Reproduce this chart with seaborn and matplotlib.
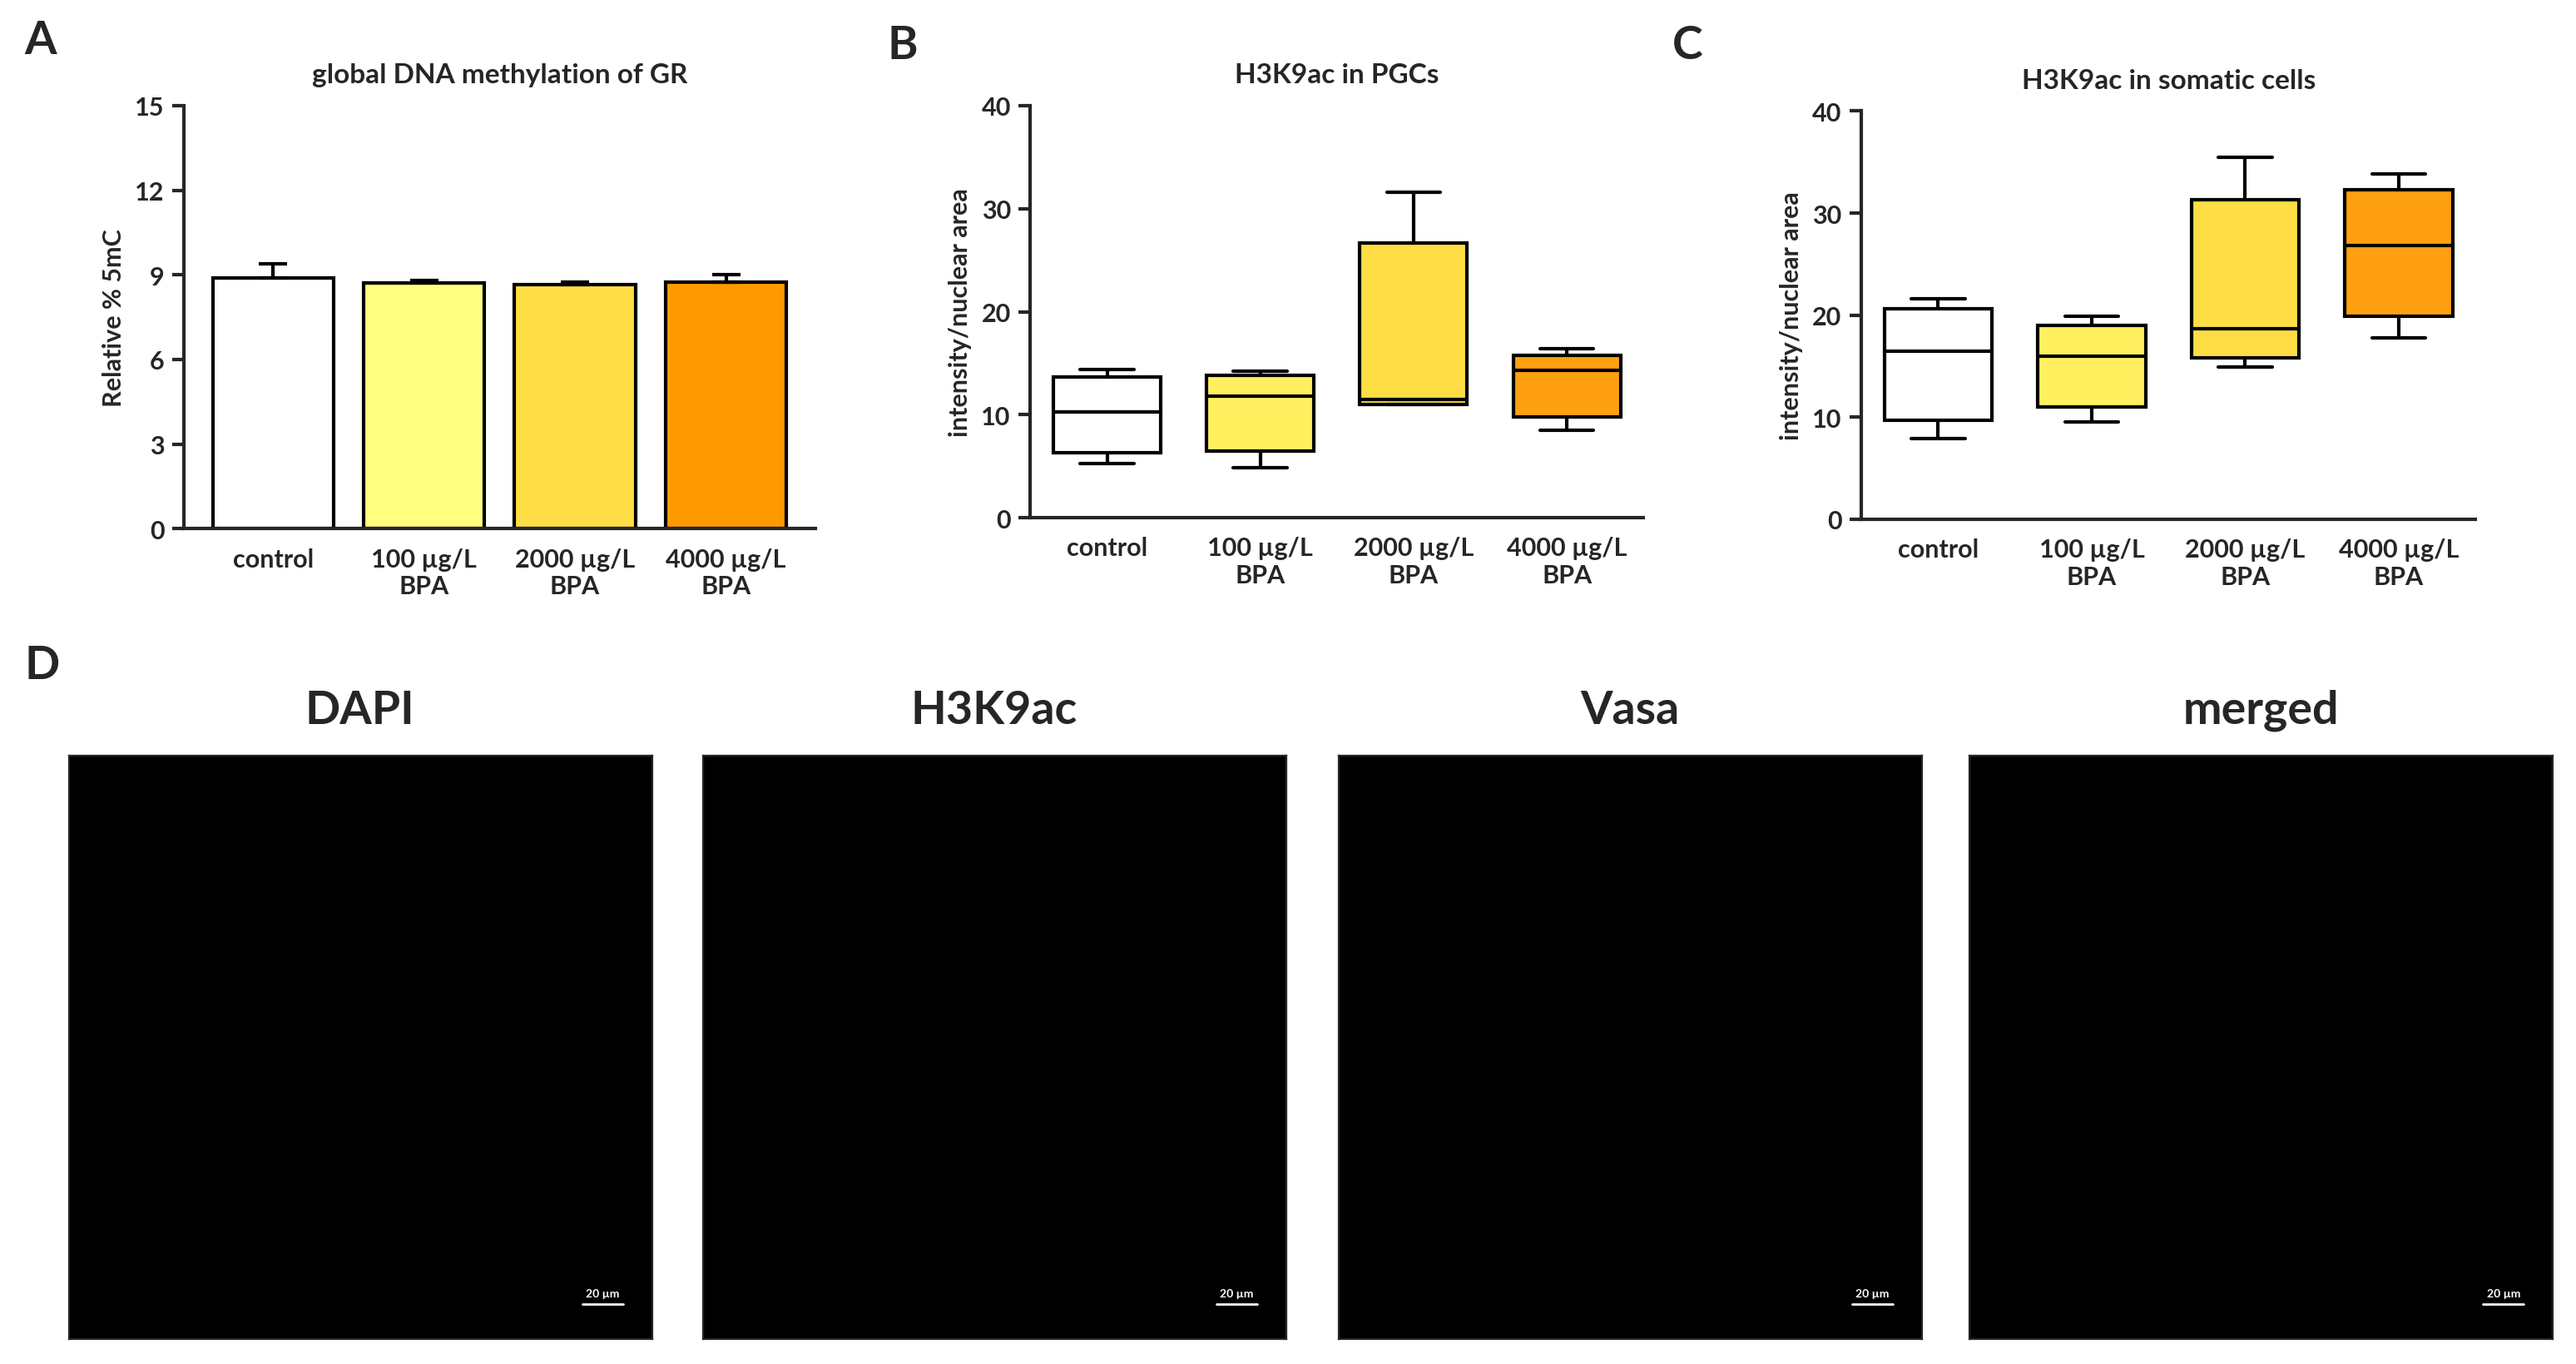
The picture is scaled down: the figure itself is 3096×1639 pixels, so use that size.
import matplotlib
matplotlib.use("Agg")
import matplotlib.pyplot as plt
import seaborn as sns
import pandas as pd
import numpy as np

sns.set_style("ticks")
plt.rcParams['font.family'] = ['Lato', 'DejaVu Sans']
plt.rcParams['font.weight'] = 'bold'

groups = ["control", "100 \u00b5g/L\nBPA", "2000 \u00b5g/L\nBPA", "4000 \u00b5g/L\nBPA"]
colors_a = ["#FFFFFF", "#FFFF80", "#FFDD44", "#FF9900"]
colors_b = ["#FFFFFF", "#FFF060", "#FFDD44", "#FFA010"]

# Panel A: mean and SEM
meth_mean = [8.9, 8.7, 8.65, 8.75]
meth_err = [0.5, 0.1, 0.1, 0.25]

# Panels B/C: min, q1, median, q3, max
pgc_stats = [[5.3, 6.3, 10.3, 13.7, 14.4],
             [4.9, 6.5, 11.8, 13.8, 14.2],
             [11.0, 11.0, 11.5, 26.7, 31.6],
             [8.5, 9.8, 14.3, 15.8, 16.4]]
som_stats = [[7.9, 9.7, 16.5, 20.6, 21.6],
             [9.5, 11.0, 16.0, 19.0, 19.9],
             [14.9, 15.8, 18.7, 31.3, 35.5],
             [17.8, 19.9, 26.8, 32.3, 33.8]]

fig = plt.figure(figsize=(15.48, 8.2), dpi=200)

def style(ax):
    sns.despine(ax=ax)
    for s in ax.spines.values():
        s.set_linewidth(1.5)
    ax.tick_params(width=1.5, length=5, labelsize=11)
    for t in ax.get_xticklabels() + ax.get_yticklabels():
        t.set_fontweight('bold')
    ax.tick_params(axis='x', length=0, pad=8)

# A
axA = fig.add_axes([0.0714, 0.612, 0.245, 0.31])
dfA = pd.DataFrame({"g": groups, "v": meth_mean})
sns.barplot(data=dfA, x="g", y="v", hue="g", palette=colors_a, legend=False,
            edgecolor="black", linewidth=1.5, width=0.8, saturation=1, ax=axA)
axA.errorbar(range(4), meth_mean, yerr=[[0]*4, meth_err], fmt='none',
             ecolor='black', elinewidth=1.5, capsize=6, capthick=1.5)
axA.set_ylim(0, 15); axA.set_yticks([0, 3, 6, 9, 12, 15])
axA.set_xlabel(""); axA.set_ylabel("Relative % 5mC", fontsize=11, fontweight='bold')
axA.set_title("global DNA methylation of GR", fontsize=12, fontweight='bold', pad=10)
style(axA)

def boxpanel(rect, stats, title):
    ax = fig.add_axes(rect)
    rows = []
    for g, s in zip(groups, stats):
        for v in s:
            rows.append((g, v))
    df = pd.DataFrame(rows, columns=["g", "v"])
    sns.boxplot(data=df, x="g", y="v", hue="g", palette=colors_b, legend=False,
                whis=(0, 100), width=0.7, linewidth=1.5, linecolor="black",
                showfliers=False, saturation=1, ax=ax)
    ax.set_ylim(0, 40); ax.set_yticks([0, 10, 20, 30, 40])
    ax.set_xlabel(""); ax.set_ylabel("intensity/nuclear area", fontsize=11, fontweight='bold')
    ax.set_title(title, fontsize=12, fontweight='bold', pad=10)
    style(ax)
    return ax

boxpanel([0.400, 0.620, 0.238, 0.302], pgc_stats, "H3K9ac in PGCs")
boxpanel([0.7226, 0.619, 0.2384, 0.299], som_stats, "H3K9ac in somatic cells")

# D image panels
img_titles = ["DAPI", "H3K9ac", "Vasa", "merged"]
img_left = [42, 428, 815, 1199]
for x0, t in zip(img_left, img_titles):
    ax = fig.add_axes([x0/1568, 0.018, 355/1568, 0.428])
    ax.set_facecolor("black")
    ax.set_xlim(0, 1); ax.set_ylim(0, 1)
    ax.set_xticks([]); ax.set_yticks([])
    ax.plot([0.88, 0.95], [0.06, 0.06], color='white', lw=1)
    ax.text(0.915, 0.07, "20 \u00b5m", color='white', fontsize=5, ha='center', va='bottom')
    fig.text((x0+177)/1568, 1-432/830, t, fontsize=20, fontweight='bold', ha='center', va='center')

for lbl, x, y in [("A", 15, 25), ("B", 540, 28), ("C", 1018, 28), ("D", 15, 405)]:
    fig.text(x/1568, 1-y/830, lbl, fontsize=20, fontweight='bold', ha='left', va='center')

fig.savefig("out.png", dpi=200)
